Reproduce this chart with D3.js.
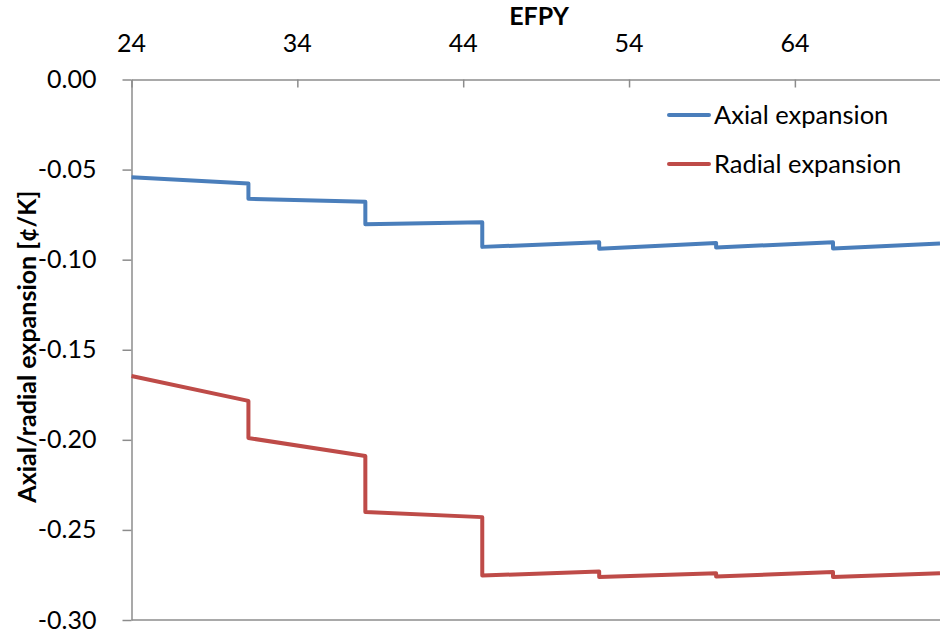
<!DOCTYPE html>
<html>
<head>
<meta charset="utf-8">
<script src="https://cdn.jsdelivr.net/npm/d3@7"></script>
<style>
  body { margin: 0; background: #fff; }
  svg text { font-family: Lato, "Open Sans", sans-serif; fill: #000; }
</style>
</head>
<body>
<svg id="chart" width="940" height="634"></svg>
<script>
// EFPY at each point (each cycle has a start and end point, so steps are vertical)
const efpy = [24, 31.05, 31.05, 38.1, 38.1, 45.15, 45.15, 52.2, 52.2, 59.25, 59.25, 66.3, 66.3, 72.75];
const axial = [-0.0543, -0.0577, -0.0662, -0.0679, -0.0803, -0.0793, -0.0929, -0.0904, -0.0940, -0.0907, -0.0932, -0.0904, -0.0938, -0.0910];
const radial = [-0.1646, -0.1784, -0.1990, -0.2090, -0.2401, -0.2429, -0.2753, -0.2731, -0.2762, -0.2740, -0.2758, -0.2734, -0.2762, -0.2740];
const xTicks = [24, 34, 44, 54, 64];
const yTicks = [0, -0.05, -0.10, -0.15, -0.20, -0.25, -0.30];
const seriesNames = ["Axial expansion", "Radial expansion"];
const seriesColors = ["#4a7ebb", "#be4b48"];

const svg = d3.select("#chart");
const plotLeft = 131.5, plotRight = 940, plotTop = 79.5, plotBottom = 620;
const axisColor = "#8c8c8c";

const x = d3.scaleLinear().domain([24, 72.75]).range([plotLeft, plotRight]);
const y = d3.scaleLinear().domain([0, -0.30]).range([plotTop, plotBottom]);

// top x axis, ticks pointing into the plot
const xAxis = svg.append("g")
  .attr("transform", `translate(0,${plotTop})`)
  .call(d3.axisBottom(x).tickValues(xTicks).tickSize(8).tickSizeOuter(0).tickFormat(""));
xAxis.selectAll("line, path").attr("stroke", axisColor).attr("stroke-width", 1.5);

svg.append("g").selectAll("text")
  .data(xTicks)
  .enter()
  .append("text")
  .attr("x", d => x(d))
  .attr("y", 52)
  .attr("text-anchor", "middle")
  .style("font-size", "25px")
  .text(d => d);

// left y axis
const yAxis = svg.append("g")
  .attr("transform", `translate(${plotLeft},0)`)
  .call(d3.axisLeft(y).tickValues(yTicks).tickSize(9).tickSizeOuter(0).tickPadding(26)
    .tickFormat(d => d3.format(".2f")(d).replace("−", "-")));
yAxis.select(".domain").attr("stroke", axisColor).attr("stroke-width", 1.5);
yAxis.selectAll("line").attr("stroke", axisColor).attr("stroke-width", 1.5);
yAxis.selectAll("text")
  .attr("fill", "#000")
  .style("font-size", "25px")
  .style("font-family", "Lato, 'Open Sans', sans-serif");

// bottom line
svg.append("line")
  .attr("x1", plotLeft).attr("x2", plotRight)
  .attr("y1", y(-0.30)).attr("y2", y(-0.30))
  .attr("stroke", axisColor).attr("stroke-width", 1.5);

// axis titles
svg.append("text")
  .attr("x", 539).attr("y", 25)
  .attr("text-anchor", "middle")
  .style("font-size", "25px")
  .style("font-weight", "bold")
  .text("EFPY");

svg.append("text")
  .attr("transform", `translate(36,${(plotTop + plotBottom) / 2 - 3}) rotate(-90)`)
  .attr("text-anchor", "middle")
  .style("font-size", "25px")
  .style("font-weight", "bold")
  .text("Axial/radial expansion [¢/K]");

// series lines
const line = d3.line()
  .x((d, i) => x(efpy[i]))
  .y(d => y(d));

[axial, radial].forEach((vals, k) => {
  svg.append("path")
    .datum(vals)
    .attr("d", line)
    .attr("fill", "none")
    .attr("stroke", seriesColors[k])
    .attr("stroke-width", 4)
    .attr("stroke-linejoin", "round");
});

// legend
const legend = svg.append("g");
seriesNames.forEach((name, k) => {
  const ly = 115 + k * 49;
  legend.append("line")
    .attr("x1", 669).attr("x2", 709)
    .attr("y1", ly).attr("y2", ly)
    .attr("stroke", seriesColors[k])
    .attr("stroke-width", 4)
    .attr("stroke-linecap", "round");
  legend.append("text")
    .attr("x", 714).attr("y", ly + 9)
    .style("font-size", "25.5px")
    .text(name);
});
</script>
</body>
</html>
